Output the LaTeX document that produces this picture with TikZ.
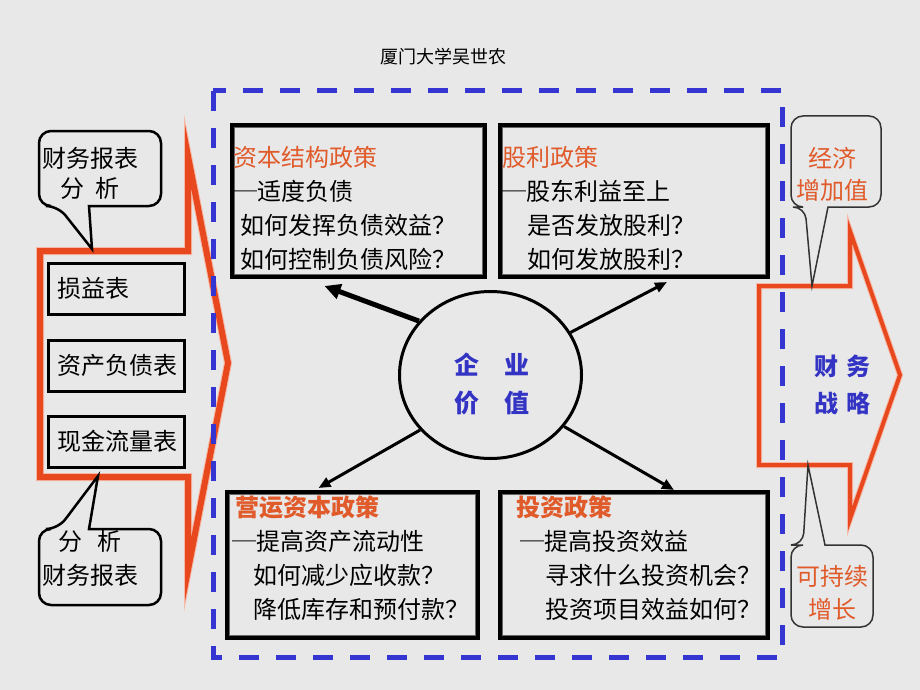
\documentclass[tikz,border=0pt]{standalone}
\usepackage{fontspec}
\setmainfont{Noto Sans CJK SC}
\usepackage{tikz}
\usetikzlibrary{shapes,positioning,calc,arrows.meta}
\definecolor{bgc}{HTML}{E8E8E8}
\definecolor{redline}{HTML}{E8481E}
\definecolor{glow}{HTML}{F6B9A6}
\definecolor{redtext}{HTML}{E05A2A}
\definecolor{bluedash}{HTML}{3535D2}
\definecolor{bluetext}{HTML}{3434C4}
\newcommand{\dashmark}{─}

\begin{document}
\begin{tikzpicture}[x=1pt, y=-1pt,
    font=\fontsize{24}{34}\selectfont,
    policy/.style={draw, line width=4pt, anchor=north west, inner sep=0pt},
    statement/.style={draw, line width=3pt, anchor=north west, minimum height=51pt,
      text width=118pt, inner xsep=9pt, align=left},
    lines/.style={anchor=north west, inner sep=0pt, align=left},
    bigarrow/.style={draw=redline, line width=#1, line join=miter, miter limit=20,
      preaction={draw=glow, line width=#1+2pt, miter limit=12}},
    bubble/.style={line width=2.5pt, rounded corners=12pt, fill=bgc},
    >={Triangle[length=12pt, width=10pt]}]

    \fill[bgc] (0,0) rectangle (920,690);
    \useasboundingbox (0,0) rectangle (920,690);

    \node (author) at (443,57) {\fontsize{18}{20}\selectfont 厦门大学吴世农};

    \draw[bigarrow=6pt] (40,251) -- (188,251) -- (188,156) -- (228,363) -- (188,570)
      -- (188,477) -- (40,477) -- cycle;
    \draw[bigarrow=4pt] (759,286) -- (850,286) -- (850,231) -- (900,375) -- (850,519)
      -- (850,465) -- (759,465) -- cycle;

    \draw[bluedash, line width=5pt, dash pattern=on 20pt off 17pt] (213,91) rectangle (782,657);

    \node[statement] (income) at (46.5,261.5) {损益表};
    \node[statement] (balance) at (46.5,338.5) {资产负债表};
    \node[statement] (cashflow) at (46.5,414.5) {现金流量表};

    \draw[bubble] (89,206) -- (161,206) -- (161,131) -- (39,131) -- (39,206) -- (58,206)
      [sharp corners] -- (92,249) -- cycle;
    \node[align=center, font=\fontsize{24}{30}\selectfont] (statTop) at (90,173)
      {财务报表\\分\hspace{12pt}析};
    \draw[bubble] (89,529) -- (161,529) -- (161,605) -- (39,605) -- (39,529) -- (58,529)
      [sharp corners] -- (98,476) -- cycle;
    \node[align=center] (statBottom) at (90,558) {分\hspace{15pt}析\\财务报表};

    \draw[bubble, line width=1.5pt, draw=black!80] (828,207) -- (881,207) -- (881,116)
      -- (791,116) -- (791,207) -- (805,207) [sharp corners] -- (812,286) -- cycle;
    \node[align=center, text=redtext, font=\fontsize{24}{32}\selectfont] (eva) at (832,174)
      {经济\\增加值};
    \draw[bubble, line width=1.5pt, draw=black!80] (825,545) -- (873,545) -- (873,627)
      -- (791,627) -- (791,545) -- (803,545) [sharp corners] -- (808,465) -- cycle;
    \node[align=center, text=redtext, font=\fontsize{24}{33}\selectfont] (growth) at (832,593)
      {可持续\\增长};

    \node[align=center, text=bluetext, font=\bfseries\fontsize{24}{37}\selectfont] (strategy)
      at (842,385) {财\hspace{8pt}务\\战\hspace{8pt}略};

    \node[policy, minimum width=253pt, minimum height=152pt] (capbox) at (230,123) {};
    \node[policy, minimum width=268pt, minimum height=152pt] (divbox) at (498,123) {};
    \node[policy, minimum width=251pt, minimum height=146pt] (wcbox) at (225,490) {};
    \node[policy, minimum width=268pt, minimum height=146pt] (invbox) at (498,490) {};
    \foreach \b in {capbox,divbox,wcbox,invbox}
      \draw[black!60, line width=1.3pt] ([xshift=4.5pt,yshift=-4.5pt]\b.north west)
        rectangle ([xshift=-4.5pt,yshift=4.5pt]\b.south east);

    \node[lines] (capText) at (233,146)
      {{\color{redtext}资本结构政策}\\\dashmark 适度负债\\
       \hspace*{7pt}如何发挥负债效益？\\\hspace*{7pt}如何控制负债风险？};
    \node[lines] (divText) at (502,146)
      {{\color{redtext}股利政策}\\\dashmark 股东利益至上\\
       \hspace*{25pt}是否发放股利？\\\hspace*{25pt}如何发放股利？};
    \node[lines] (wcText) at (232,496)
      {\hspace*{3pt}{\color{redtext}\bfseries 营运资本政策}\\\dashmark 提高资产流动性\\
       \hspace*{21pt}如何减少应收款？\\\hspace*{21pt}降低库存和预付款？};
    \node[lines] (invText) at (516,496)
      {{\color{redtext}\bfseries 投资政策}\\\hspace*{4pt}\dashmark 提高投资效益\\
       \hspace*{29pt}寻求什么投资机会？\\\hspace*{29pt}投资项目效益如何？};

    \node[ellipse, draw, line width=3pt, minimum width=182pt, minimum height=167pt] (value)
      at (490.5,375) {};
    \node[align=center, text=bluetext, font=\bfseries\fontsize{25}{38}\selectfont] (valueText)
      at (492,384) {企\hspace{25pt}业\\价\hspace{26pt}值};

    \draw[->, line width=5pt, >={Triangle[length=16pt, width=15pt]}] (value.143)
      -- ([xshift=-34pt,yshift=-7pt]capbox.south);
    \draw[->, line width=3pt] (value.28) -- ([xshift=33pt,yshift=-3pt]divbox.south);
    \draw[->, line width=3pt] (value.218) -- ([xshift=-34pt,yshift=2pt]wcbox.north);
    \draw[->, line width=3pt] (value.325) -- ([xshift=40pt]invbox.north);
\end{tikzpicture}
\end{document}
